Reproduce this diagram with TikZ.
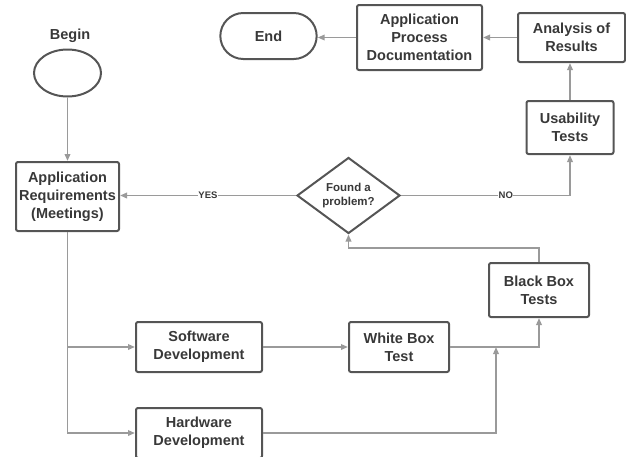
\documentclass[tikz,border=0pt]{standalone}
\usepackage{fontspec}
\setmainfont{Liberation Sans}
\usetikzlibrary{shapes.geometric, shapes.misc, arrows.meta}
\definecolor{boxgray}{HTML}{555555}
\definecolor{linegray}{HTML}{9A9A9A}
\definecolor{textgray}{HTML}{383838}

\begin{document}
\begin{tikzpicture}[x=1pt, y=-1pt,
    box/.style={draw=boxgray, line width=2pt, rounded corners=2pt, align=center, text=textgray, font=\fontsize{14.5}{18}\selectfont\bfseries, inner sep=0pt},
    flow/.style={draw=linegray, line width=1.9pt, -{Triangle[length=7pt, width=5.5pt]}},
    plain/.style={draw=linegray, line width=1.9pt},
    lbl/.style={fill=white, inner sep=0.5pt, text=textgray, font=\fontsize{9.5}{11}\selectfont\bfseries}]
      \useasboundingbox (0,0) rectangle (626,456);
      \node[text=textgray, font=\fontsize{14.5}{18}\selectfont\bfseries] (beginlbl) at (70,36) {Begin};
      \node[ellipse, draw=boxgray, line width=2pt, minimum width=67, minimum height=47] (begin) at (67.5,73) {};
      \node[box, minimum width=103, minimum height=69] (req) at (67.5,196.5) {Application\\Requirements\\(Meetings)};
      \node[diamond, draw=boxgray, line width=2pt, aspect=1.35, inner sep=0pt, minimum width=103, minimum height=76, align=center, text=textgray, font=\fontsize{11.5}{14}\selectfont\bfseries] (found) at (348.5,195.5) {Found a\\problem?};
      \node[box, minimum width=126, minimum height=50] (soft) at (199,347) {Software\\Development};
      \node[box, minimum width=126, minimum height=50] (hard) at (199,433) {Hardware\\Development};
      \node[box, minimum width=100, minimum height=50] (white) at (399,347) {White Box\\Test};
      \node[box, minimum width=100, minimum height=54] (black) at (539,290) {Black Box\\Tests};
      \node[box, minimum width=87, minimum height=53] (usab) at (570,127.5) {Usability\\Tests};
      \node[box, minimum width=107, minimum height=49] (analysis) at (571.5,37.5) {Analysis of\\Results};
      \node[box, minimum width=125, minimum height=65] (docu) at (419.5,37.5) {Application\\Process\\Documentation};
      \node[draw=boxgray, line width=2pt, rounded rectangle, minimum width=103, minimum height=46, text=textgray, font=\fontsize{14.5}{18}\selectfont\bfseries] (end) at (268.5,36) {End};
      \coordinate (join) at (496,347);
      \draw[flow] (begin.south) -- (begin.south |- req.north);
      \draw[flow] (found.west) -- node[lbl] {YES} (found.west -| req.east);
      \draw[plain] (found.east) -- node[lbl, pos=0.62] {NO} (found.east -| usab.south);
      \draw[flow] (found.east -| usab.south) -- (usab.south);
      \draw[flow] (usab.north) -- (usab.north |- analysis.south);
      \draw[flow] (analysis.west) -- (docu.east);
      \draw[flow] (docu.west) -- (docu.west -| end.east);
      \draw[flow] (req.south) |- (soft.west);
      \draw[flow] (req.south) |- (hard.west);
      \draw[flow] (soft) -- (white);
      \draw[flow] (white.east) -| (black.south);
      \draw[flow] (hard.east) -| (join);
      \draw[flow] (black.north) -- ++(0,-14) -| (found.south);
  \end{tikzpicture}
\end{document}
